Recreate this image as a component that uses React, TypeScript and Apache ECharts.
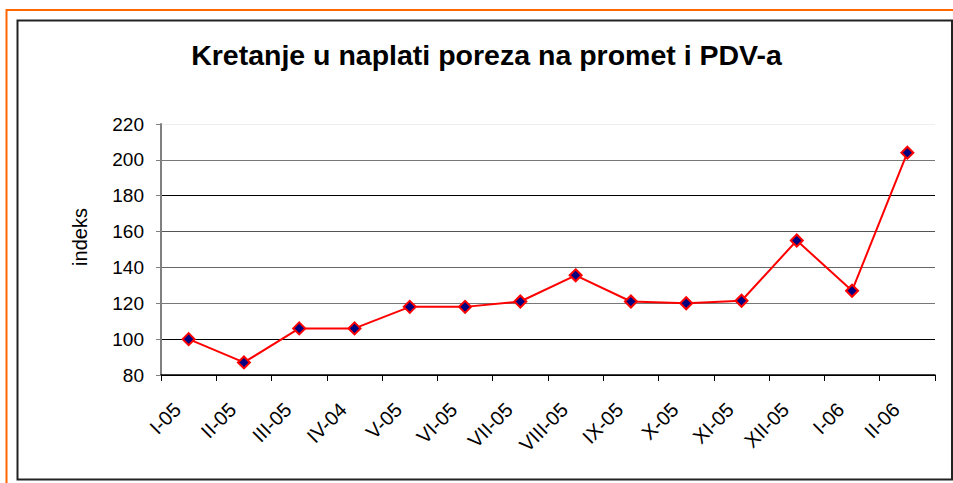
import React, { useEffect, useRef } from "react";
import * as echarts from "echarts";

const categories = ["I-05", "II-05", "III-05", "IV-04", "V-05", "VI-05", "VII-05", "VIII-05", "IX-05", "X-05", "XI-05", "XII-05", "I-06", "II-06"];
const indexValues = [100, 87, 106, 106, 118, 118, 121, 135.6, 121, 120, 121.4, 155, 127, 204];
const yTicks = { min: 80, max: 220, interval: 20 };
const titleText = "Kretanje u naplati poreza na promet i PDV-a";
const yAxisName = "indeks";

export default function App() {
  const ref = useRef<HTMLDivElement>(null);
  useEffect(() => {
    if (!ref.current) return;
    const chart = echarts.init(ref.current, undefined, { renderer: "svg" });
    const font = "'Liberation Sans', Arial, sans-serif";
    chart.setOption({
      animation: false,
      backgroundColor: "#ffffff",
      title: {
        text: titleText,
        left: 486.5,
        top: 40,
        padding: 0,
        textAlign: "center",
        textStyle: { fontFamily: font, fontSize: 28.5, fontWeight: "bold", color: "#000" },
      },
      graphic: [
        { type: "rect", shape: { x: 6.5, y: 10, width: 1000, height: 600 }, style: { fill: "none", stroke: "#FF6600", lineWidth: 2 }, silent: true },
        { type: "rect", shape: { x: 17.5, y: 20.5, width: 934.5, height: 459 }, style: { fill: "none", stroke: "#222", lineWidth: 2 }, silent: true },
        {
          type: "text",
          x: 80,
          y: 237,
          rotation: Math.PI / 2,
          style: { text: yAxisName, fontFamily: font, fontSize: 20, fill: "#000", align: "center", verticalAlign: "middle" },
        },
      ],
      grid: { left: 161, right: 18, top: 124, bottom: 108, containLabel: false },
      xAxis: {
        type: "category",
        data: categories,
        boundaryGap: true,
        axisLine: { show: true, lineStyle: { color: "#000", width: 1.5 } },
        axisTick: { show: true, alignWithLabel: false, length: 6, lineStyle: { color: "#000", width: 1 } },
        axisLabel: { rotate: 45, interval: 0, margin: 20, padding: [0, 16, 0, 0], fontFamily: font, fontSize: 20, color: "#000" },
        splitLine: { show: false },
      },
      yAxis: {
        type: "value",
        min: yTicks.min,
        max: yTicks.max,
        interval: yTicks.interval,
        axisLine: { show: true, lineStyle: { color: "#808080", width: 2 } },
        axisTick: { show: true, length: 5, lineStyle: { color: "#808080", width: 1 } },
        axisLabel: { margin: 17, fontFamily: font, fontSize: 19, color: "#000" },
        splitLine: {
          show: true,
          lineStyle: { color: ["#000", "#000", "#777", "#666", "#555", "#000", "#777", "#eeeeee"], width: 1 },
        },
      },
      series: [
        {
          type: "line",
          data: indexValues,
          symbol: "diamond",
          symbolSize: 12,
          lineStyle: { color: "#ff0000", width: 2 },
          itemStyle: { color: "#000080", borderColor: "#ff0000", borderWidth: 2 },
        },
      ],
    });
    return () => chart.dispose();
  }, []);
  return <div ref={ref} style={{ position: "absolute", left: 0, top: 0, width: 953, height: 483 }} />;
}
